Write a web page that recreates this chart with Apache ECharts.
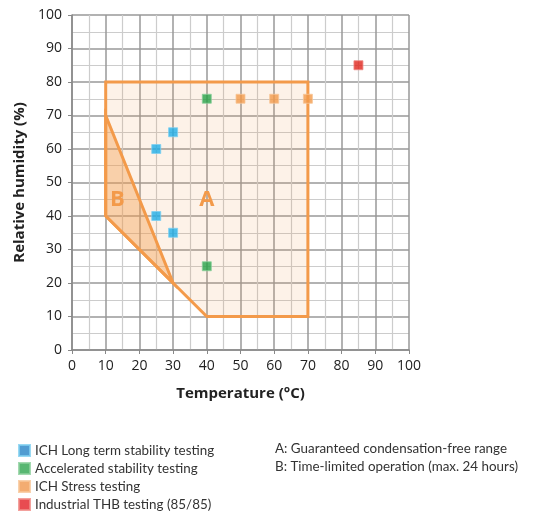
<!DOCTYPE html>
<html><head><meta charset="utf-8">
<script src="https://cdn.jsdelivr.net/npm/echarts@6/dist/echarts.min.js"></script>
<style>html,body{margin:0;padding:0;background:#fff}#c{width:549px;height:515px}</style>
</head><body><div id="c"></div>
<script>
const xTicks = [0,10,20,30,40,50,60,70,80,90,100];
const yTicks = [0,10,20,30,40,50,60,70,80,90,100];
const longTerm = [[25,60],[30,65],[25,40],[30,35]];
const accelerated = [[40,75],[40,25]];
const stress = [[50,75],[60,75],[70,75]];
const thb = [[85,85]];
const regionA = [[10,40],[10,80],[70,80],[70,10],[40,10],[30,20]];
const regionB = [[10,70],[10,40],[30,20]];
const regionLabels = [[40,45,'A'],[13.5,45,'B']];
const seriesNames = ['ICH Long term stability testing','Accelerated stability testing','ICH Stress testing','Industrial THB testing (85/85)'];
const noteLines = ['A: Guaranteed condensation-free range','B: Time-limited operation (max. 24 hours)'];

const ORANGE = '#f39a4a';
const font = 'Lato, "Open Sans", sans-serif';

function polySeries(points, fill) {
  return {
    type: 'custom', silent: true, z: 2,
    data: [0],
    renderItem: function (params, api) {
      const pts = points.map(p => api.coord(p));
      return { type: 'polygon', shape: { points: pts },
        style: { fill: fill, stroke: ORANGE, lineWidth: 3, lineJoin: 'miter' } };
    }
  };
}

const chart = echarts.init(document.getElementById('c'), null, {renderer: 'canvas'});
chart.setOption({
  animation: false,
  textStyle: { fontFamily: font },
  grid: { left: 72, right: 140, top: 15, bottom: 165 },
  xAxis: {
    type: 'value', min: 0, max: 100, interval: 10,
    name: 'Temperature (°C)', nameLocation: 'middle', nameGap: 36,
    nameTextStyle: { fontWeight: 'bold', fontSize: 15, color: '#222', fontFamily: 'Open Sans' },
    axisLine: { show: true, lineStyle: { color: '#888', width: 1.5 } },
    axisTick: { show: true, length: 4, lineStyle: { color: '#888' } },
    axisLabel: { fontSize: 14, color: '#222', margin: 9 , fontFamily: 'Open Sans'},
    splitLine: { show: true, lineStyle: { color: '#999', width: 1.5 } },
    minorTick: { show: false, splitNumber: 2 },
    minorSplitLine: { show: true, lineStyle: { color: '#cccccc', width: 1.2 } }
  },
  yAxis: {
    type: 'value', min: 0, max: 100, interval: 10,
    name: 'Relative humidity (%)', nameLocation: 'middle', nameGap: 40,
    nameTextStyle: { fontWeight: 'bold', fontSize: 15, color: '#222', fontFamily: 'Open Sans' },
    axisLine: { show: true, lineStyle: { color: '#888', width: 1.5 } },
    axisTick: { show: true, length: 4, lineStyle: { color: '#888' } },
    axisLabel: { fontSize: 14, color: '#222', margin: 10, fontFamily: 'Open Sans' },
    splitLine: { show: true, lineStyle: { color: '#999', width: 1.5 } },
    minorTick: { show: false, splitNumber: 2 },
    minorSplitLine: { show: true, lineStyle: { color: '#cccccc', width: 1.2 } }
  },
  legend: {
    orient: 'vertical', left: 13, top: 439, height: 76, itemGap: 5,
    itemWidth: 11, itemHeight: 11, icon: 'rect',
    textStyle: { fontSize: 13.4, color: '#333', fontFamily: font },
    data: [
      { name: seriesNames[0], itemStyle: { color: '#2683c6' } },
      { name: seriesNames[1], itemStyle: { color: '#2ea54f' } },
      { name: seriesNames[2], itemStyle: { color: '#f0974e' } },
      { name: seriesNames[3], itemStyle: { color: '#e21f26' } }
    ]
  },
  graphic: [
    { type: 'text', left: 275, top: 442, style: { text: noteLines[0], font: '13.4px ' + font, fill: '#333' } },
    { type: 'text', left: 275, top: 460, style: { text: noteLines[1], font: '13.4px ' + font, fill: '#333' } }
  ],
  series: [
    polySeries(regionA, 'rgba(243,154,74,0.13)'),
    polySeries(regionB, 'rgba(243,154,74,0.40)'),
    {
      type: 'custom', silent: true, z: 3, data: regionLabels,
      renderItem: function (params, api) {
        const p = api.coord([api.value(0), api.value(1)]);
        return { type: 'text', x: p[0], y: p[1],
          style: { text: regionLabels[params.dataIndex][2], fill: ORANGE,
            font: 'bold 22px "Open Sans", sans-serif', align: 'center', verticalAlign: 'middle' } };
      }
    },
    { name: seriesNames[0], type: 'scatter', z: 5, symbol: 'rect', symbolSize: 9, data: longTerm,
      itemStyle: { color: '#1eaee8', borderColor: '#7fd0f0', borderWidth: 1 } },
    { name: seriesNames[1], type: 'scatter', z: 5, symbol: 'rect', symbolSize: 9, data: accelerated,
      itemStyle: { color: '#27a348', borderColor: '#8ccf9c', borderWidth: 1 } },
    { name: seriesNames[2], type: 'scatter', z: 5, symbol: 'rect', symbolSize: 9, data: stress,
      itemStyle: { color: '#f39a4a', borderColor: '#f8c597', borderWidth: 1 } },
    { name: seriesNames[3], type: 'scatter', z: 5, symbol: 'rect', symbolSize: 9, data: thb,
      itemStyle: { color: '#e0241b', borderColor: '#f08a84', borderWidth: 1 } }
  ]
});
</script></body></html>
